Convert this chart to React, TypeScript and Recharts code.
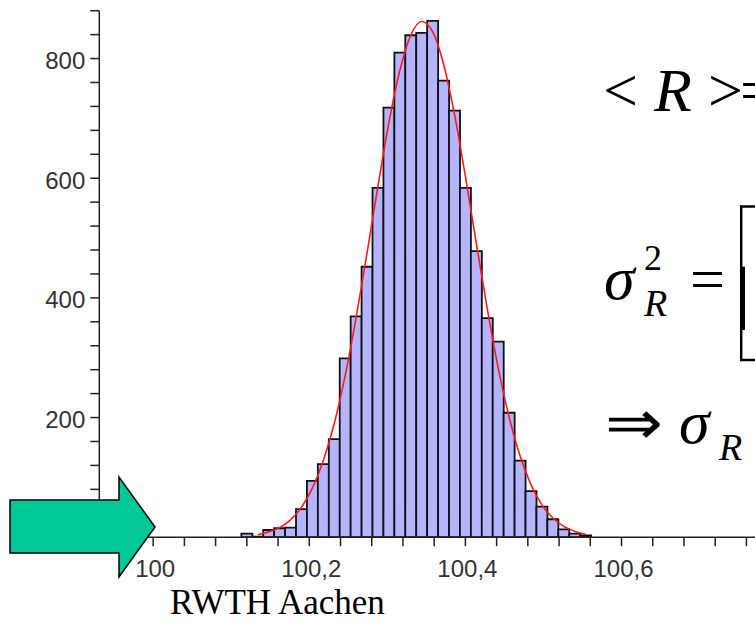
import React from 'react';
import { ComposedChart, Bar, Line, XAxis, YAxis } from 'recharts';

// Histogram bin centres (bin width 0.014)
const binCenters = [
  100.120, 100.134, 100.148, 100.162, 100.176, 100.190, 100.204, 100.218,
  100.232, 100.246, 100.260, 100.274, 100.288, 100.302, 100.316, 100.330,
  100.344, 100.358, 100.372, 100.386, 100.400, 100.414, 100.428, 100.442,
  100.456, 100.470, 100.484, 100.498, 100.512, 100.526, 100.540, 100.554,
];
// Counts per bin
const binCounts = [
  6, 1, 12, 15, 16, 47, 94, 122, 164, 299, 369, 452, 584, 718, 810, 839,
  843, 863, 763, 713, 584, 478, 366, 327, 208, 128, 77, 51, 30, 13, 6, 3,
];
// Red fitted curve read at the bin centres
const fitValues = [
  null, 4, 9, 16, 29, 50, 82, 128, 190, 270, 367, 475, 587, 693, 780, 839,
  862, 845, 791, 707, 603, 491, 382, 283, 201, 136, 88, 54, 32, 18, 10, 5,
];

const xTicks = [
  99.96, 100, 100.04, 100.08, 100.12, 100.16, 100.2, 100.24, 100.28, 100.32,
  100.36, 100.4, 100.44, 100.48, 100.52, 100.56, 100.6, 100.64, 100.68,
  100.72, 100.76,
];
const xLabelValues = [100, 100.2, 100.4, 100.6];
const xLabelTexts = ['100', '100,2', '100,4', '100,6'];

const yTicks = [
  0, 40, 80, 120, 160, 200, 240, 280, 320, 360, 400, 440, 480, 520, 560, 600,
  640, 680, 720, 760, 800, 840, 880,
];
const yLabelValues = [200, 400, 600, 800];
const yLabelTexts = ['200', '400', '600', '800'];

const data = binCenters.map((x, i) => ({ x, count: binCounts[i], fit: fitValues[i] }));

const SANS = "'Liberation Sans', Arial, Helvetica, sans-serif";
const SERIF = "'Liberation Serif', 'Times New Roman', Times, serif";

const XTick = (props: any) => {
  const { x, y, payload } = props;
  const idx = xLabelValues.findIndex((v) => Math.abs(v - payload.value) < 1e-6);
  if (idx < 0) return <g />;
  return (
    <text x={x + 2} y={y} dy={30.5} textAnchor="middle" fontFamily={SANS} fontSize={24} fill="#333">
      {xLabelTexts[idx]}
    </text>
  );
};

const YTick = (props: any) => {
  const { x, y, payload } = props;
  const idx = yLabelValues.findIndex((v) => Math.abs(v - payload.value) < 1e-6);
  if (idx < 0) return <g />;
  return (
    <text x={x} y={y} dy={10.5} textAnchor="end" fontFamily={SANS} fontSize={24} fill="#333">
      {yLabelTexts[idx]}
    </text>
  );
};

export default function App() {
  return (
    <div
      style={{
        position: 'absolute',
        left: 0,
        top: 0,
        width: 755,
        height: 632,
        overflow: 'hidden',
        background: '#fff',
      }}
    >
      <ComposedChart
        width={755}
        height={632}
        data={data}
        margin={{ top: 10.7, right: 0, bottom: 0, left: 0 }}
        barCategoryGap={0}
        barGap={0}
      >
        <XAxis
          dataKey="x"
          type="number"
          scale="linear"
          domain={[99.931, 100.771]}
          allowDataOverflow
          ticks={xTicks}
          interval={0}
          height={94.8}
          tickSize={9}
          tickMargin={0}
          axisLine={{ stroke: '#222', strokeWidth: 1.5 }}
          tickLine={{ stroke: '#222', strokeWidth: 1.5 }}
          tick={<XTick />}
        />
        <YAxis
          type="number"
          domain={[0, 880]}
          allowDataOverflow
          ticks={yTicks}
          interval={0}
          width={99.3}
          tickSize={9}
          tickMargin={5}
          axisLine={{ stroke: '#222', strokeWidth: 1.5 }}
          tickLine={{ stroke: '#222', strokeWidth: 1.5 }}
          tick={<YTick />}
        />
        <Bar
          dataKey="count"
          fill="#b4b4ff"
          stroke="#111"
          strokeWidth={1.8}
          isAnimationActive={false}
        />
        <Line
          dataKey="fit"
          type="monotone"
          stroke="#ff1a1a"
          strokeWidth={1.6}
          dot={false}
          activeDot={false}
          connectNulls={false}
          isAnimationActive={false}
        />
      </ComposedChart>
      <svg
        width={755}
        height={632}
        style={{ position: 'absolute', left: 0, top: 0, pointerEvents: 'none' }}
      >
        {/* green arrow */}
        <polygon
          points="10,500 119,500 119,477 155,527 119,577 119,553 10,553"
          fill="#00c896"
          stroke="#000"
          strokeWidth={1.5}
          strokeLinejoin="miter"
        />
        {/* < R >= */}
        <text x={603} y={111} fontFamily={SERIF} fontSize={62} fill="#000">&lt;</text>
        <text x={654} y={111} fontFamily={SERIF} fontSize={62} fontStyle="italic" fill="#000">R</text>
        <text x={708} y={111} fontFamily={SERIF} fontSize={62} fill="#000">&gt;</text>
        <text x={740} y={111} fontFamily={SERIF} fontSize={62} fill="#000">=</text>
        {/* sigma_R^2 = [ */}
        <text x={604} y={299} fontFamily={SERIF} fontSize={62} fontStyle="italic" fill="#000">σ</text>
        <text x={644} y={270} fontFamily={SERIF} fontSize={36} fill="#000">2</text>
        <text x={644} y={316} fontFamily={SERIF} fontSize={38} fontStyle="italic" fill="#000">R</text>
        <text x={690} y={300} fontFamily={SERIF} fontSize={62} fill="#000">=</text>
        <line x1={741.2} y1={205.5} x2={741.2} y2={361} stroke="#000" strokeWidth={2.5} />
        <line x1={742.5} y1={266.7} x2={742.5} y2={330} stroke="#000" strokeWidth={5} />
        <line x1={740} y1={206.5} x2={755} y2={206.5} stroke="#000" strokeWidth={2.5} />
        <line x1={740} y1={360} x2={755} y2={360} stroke="#000" strokeWidth={2.5} />
        {/* => sigma_R */}
        <text x={605} y={444} fontFamily={SERIF} fontSize={62} fill="#000" textLength={58} lengthAdjust="spacingAndGlyphs">⇒</text>
        <text x={679} y={443} fontFamily={SERIF} fontSize={62} fontStyle="italic" fill="#000">σ</text>
        <text x={719} y={460} fontFamily={SERIF} fontSize={38} fontStyle="italic" fill="#000">R</text>
        {/* footer */}
        <text x={170} y={614} fontFamily={SERIF} fontSize={35} fill="#000">RWTH Aachen</text>
      </svg>
    </div>
  );
}
